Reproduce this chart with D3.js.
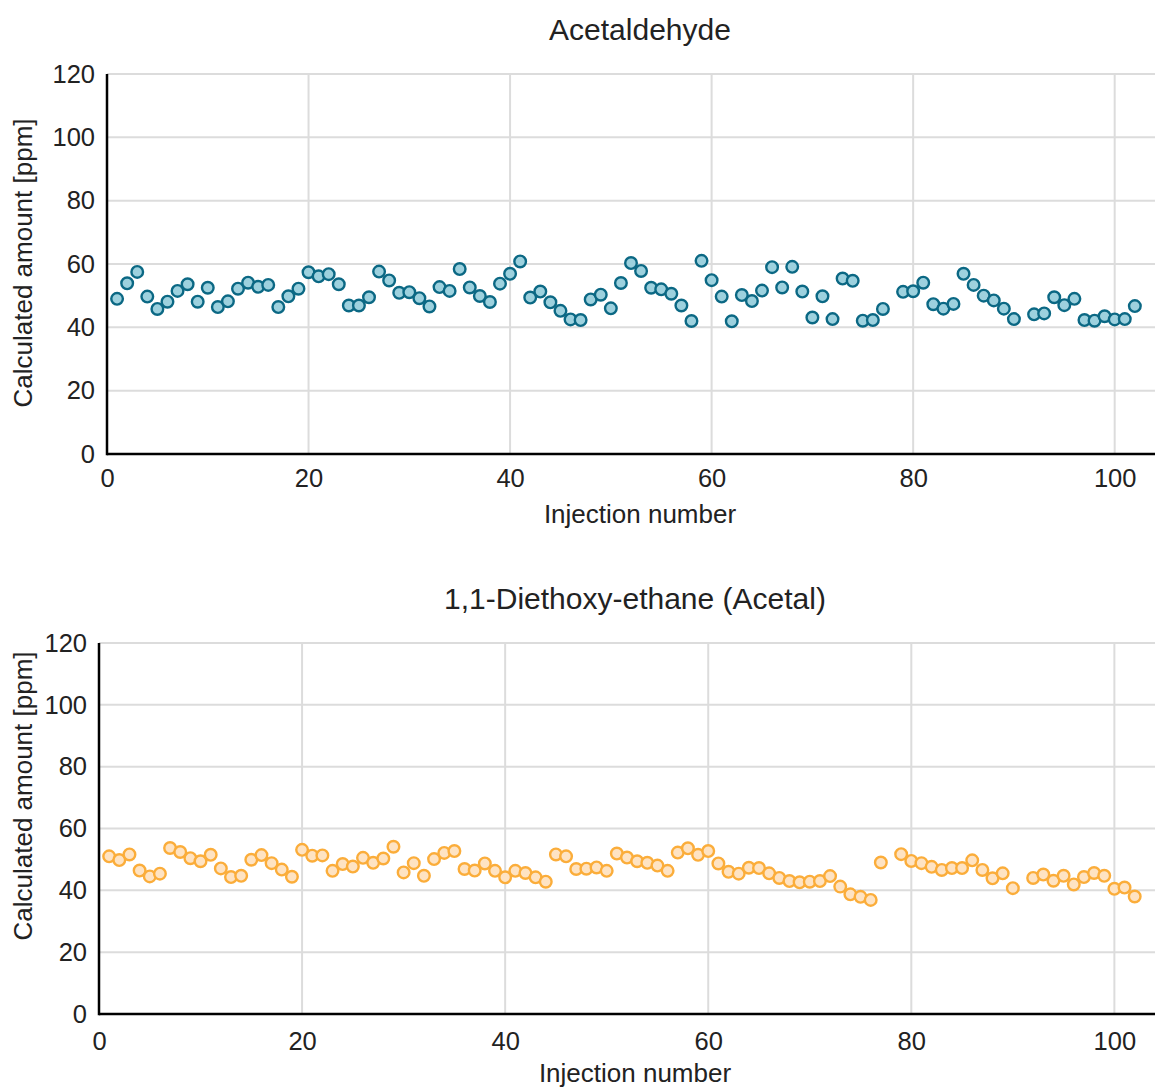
<!DOCTYPE html>
<html>
<head>
<meta charset="utf-8">
<script src="https://cdn.jsdelivr.net/npm/d3@7"></script>
<style>
  html, body { margin: 0; padding: 0; background: #fff; }
  svg { display: block; }
  text { font-family: "Liberation Sans", Arial, Helvetica, sans-serif; fill: #222; }
</style>
</head>
<body>
<svg id="chart" width="1155" height="1089"></svg>
<script>
// ---------- DATA ----------
const injectionsA = [1,2,3,4,5,6,7,8,9,10,11,12,13,14,15,16,17,18,19,20,21,22,23,24,25,26,27,28,29,30,31,32,33,34,35,36,37,38,39,40,41,42,43,44,45,46,47,48,49,50,51,52,53,54,55,56,57,58,59,60,61,62,63,64,65,66,67,68,69,70,71,72,73,74,75,76,77,79,80,81,82,83,84,85,86,87,88,89,90,92,93,94,95,96,97,98,99,100,101,102];
const acetaldehyde = [49.0,53.9,57.5,49.7,45.8,48.1,51.5,53.6,48.1,52.5,46.4,48.2,52.2,54.1,52.8,53.4,46.4,49.8,52.2,57.4,56.1,56.8,53.6,46.9,46.9,49.5,57.6,54.8,50.9,51.1,49.2,46.6,52.7,51.5,58.4,52.6,49.9,48.0,53.8,56.9,60.8,49.4,51.3,47.9,45.2,42.5,42.3,48.8,50.3,46.0,54.0,60.3,57.8,52.5,52.0,50.6,46.9,42.0,61.0,54.9,49.7,41.9,50.2,48.3,51.6,59.0,52.6,59.1,51.3,43.1,49.8,42.6,55.4,54.7,42.1,42.3,45.8,51.2,51.4,54.1,47.3,45.9,47.4,56.9,53.4,50.0,48.5,45.9,42.6,44.1,44.4,49.5,47.0,49.0,42.3,42.1,43.5,42.5,42.6,46.7];

const injectionsB = [1,2,3,4,5,6,7,8,9,10,11,12,13,14,15,16,17,18,19,20,21,22,23,24,25,26,27,28,29,30,31,32,33,34,35,36,37,38,39,40,41,42,43,44,45,46,47,48,49,50,51,52,53,54,55,56,57,58,59,60,61,62,63,64,65,66,67,68,69,70,71,72,73,74,75,76,77,79,80,81,82,83,84,85,86,87,88,89,90,92,93,94,95,96,97,98,99,100,101,102];
const acetal = [51.0,49.8,51.6,46.4,44.5,45.4,53.7,52.4,50.4,49.4,51.5,47.1,44.3,44.7,49.9,51.4,48.8,46.7,44.4,53.1,51.2,51.3,46.3,48.5,47.7,50.5,48.9,50.3,54.1,45.8,48.8,44.7,50.1,52.1,52.7,46.9,46.4,48.7,46.3,44.2,46.3,45.6,44.2,42.8,51.6,51.0,46.9,47.0,47.4,46.3,51.9,50.6,49.4,48.9,48.0,46.3,52.2,53.6,51.5,52.7,48.7,46.0,45.4,47.3,47.2,45.5,44.0,43.0,42.6,42.8,43.0,44.6,41.2,38.7,37.9,36.9,49.0,51.7,49.5,48.8,47.6,46.6,47.2,47.2,49.7,46.6,43.9,45.5,40.7,44.0,45.1,43.1,44.7,41.9,44.3,45.6,44.7,40.5,40.9,38.0];

const titles = ["Acetaldehyde", "1,1-Diethoxy-ethane (Acetal)"];
const xTicks = [0, 20, 40, 60, 80, 100];
const yTicks = [0, 20, 40, 60, 80, 100, 120];
const xLabel = "Injection number";
const yLabel = "Calculated amount [ppm]";

// ---------- DRAW ----------
const svg = d3.select("#chart");

function drawPanel(cfg) {
  const { left, right, top, bottom, xs, ys, title, titleX, fill, stroke, xPad, xTitleOff, yTitleY } = cfg;
  const g = svg.append("g");
  const x = d3.scaleLinear().domain([0, 104]).range([left, right]);
  const y = d3.scaleLinear().domain([0, 120]).range([bottom, top]);

  // gridlines
  g.append("g").selectAll("line.h").data(yTicks.filter(d => d > 0)).join("line")
    .attr("x1", left).attr("x2", right)
    .attr("y1", d => y(d)).attr("y2", d => y(d))
    .attr("stroke", "#dcdcdc").attr("stroke-width", 2);
  g.append("g").selectAll("line.v").data(xTicks.filter(d => d > 0)).join("line")
    .attr("x1", d => x(d)).attr("x2", d => x(d))
    .attr("y1", top).attr("y2", bottom)
    .attr("stroke", "#dcdcdc").attr("stroke-width", 2);

  // axes
  const xAxis = g.append("g").attr("transform", `translate(0,${bottom})`)
    .call(d3.axisBottom(x).tickValues(xTicks).tickSize(0).tickPadding(xPad));
  xAxis.select(".domain").remove();
  xAxis.selectAll("text").style("font-size", "25.5px").attr("fill", "#222");

  const yAxis = g.append("g").attr("transform", `translate(${left},0)`)
    .call(d3.axisLeft(y).tickValues(yTicks).tickSize(0).tickPadding(12));
  yAxis.select(".domain").remove();
  yAxis.selectAll("text").style("font-size", "25.5px").attr("fill", "#222");

  g.append("line").attr("x1", left).attr("x2", right).attr("y1", bottom).attr("y2", bottom)
    .attr("stroke", "#000").attr("stroke-width", 2.5);
  g.append("line").attr("x1", left).attr("x2", left).attr("y1", top).attr("y2", bottom + 1.25)
    .attr("stroke", "#000").attr("stroke-width", 2.5);

  // points
  g.append("g").selectAll("circle").data(xs.map((v, i) => [v, ys[i]])).join("circle")
    .attr("cx", d => x(d[0])).attr("cy", d => y(d[1])).attr("r", 5.8)
    .attr("fill", fill).attr("stroke", stroke).attr("stroke-width", 2.4);

  // titles
  g.append("text").attr("x", titleX).attr("y", top - 34).attr("text-anchor", "middle")
    .style("font-size", "30px").text(title);
  g.append("text").attr("x", titleX).attr("y", bottom + xTitleOff).attr("text-anchor", "middle")
    .style("font-size", "26px").text(xLabel);
  g.append("text").attr("transform", `translate(32,${yTitleY}) rotate(-90)`)
    .attr("text-anchor", "middle").style("font-size", "26px").text(yLabel);
}

drawPanel({ left: 107, right: 1155, top: 74, bottom: 454, xs: injectionsA, ys: acetaldehyde,
  title: titles[0], titleX: 640, fill: "#9dd1de", stroke: "#0b6884",
  xPad: 15, xTitleOff: 69, yTitleY: 263 });
drawPanel({ left: 99, right: 1155, top: 643, bottom: 1014, xs: injectionsB, ys: acetal,
  title: titles[1], titleX: 635, fill: "#fee3c3", stroke: "#fbad3a",
  xPad: 18, xTitleOff: 68, yTitleY: 796 });
</script>
</body>
</html>
